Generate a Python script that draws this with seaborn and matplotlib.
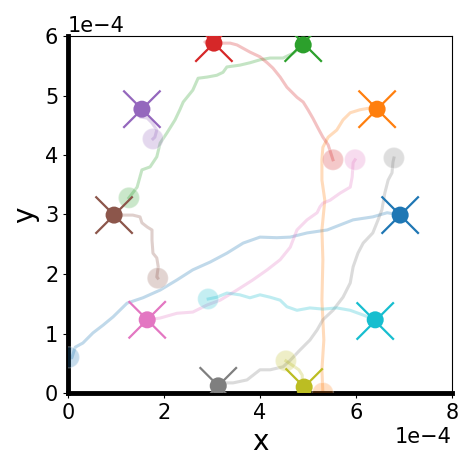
import numpy as np
import pandas as pd
import matplotlib
matplotlib.use("Agg")
import matplotlib.pyplot as plt
import seaborn as sns

SCALE = 1e-4  # values below are in units of 1e-4

agents = ["0", "1", "2", "3", "4", "5", "6", "7", "8", "9"]

# trajectories (x, y), in 1e-4 units
path0_x = [0.02, 0.08, 0.15, 0.31, 0.52, 0.73, 0.94, 1.23, 1.56, 1.92, 2.27, 2.60, 2.96, 3.31, 3.65, 4.00, 4.35, 4.63, 4.98, 5.40, 5.94, 6.35, 6.65, 6.92]
path0_y = [0.60, 0.59, 0.77, 0.84, 1.01, 1.14, 1.28, 1.51, 1.60, 1.73, 1.90, 2.07, 2.20, 2.35, 2.52, 2.62, 2.61, 2.62, 2.69, 2.74, 2.91, 2.96, 3.03, 2.99]

path1_x = [5.31, 5.29, 5.33, 5.29, 5.31, 5.29, 5.35, 5.29, 5.29, 5.31, 5.42, 5.60, 5.73, 5.88, 6.08, 6.29, 6.44]
path1_y = [0.00, 0.39, 0.89, 1.56, 2.24, 2.74, 3.24, 3.58, 3.92, 4.13, 4.30, 4.42, 4.59, 4.71, 4.76, 4.79, 4.77]

path2_x = [1.27, 1.44, 1.54, 1.71, 1.85, 1.92, 2.06, 2.23, 2.33, 2.40, 2.60, 2.71, 2.90, 3.10, 3.23, 3.31, 3.58, 3.79, 4.00, 4.21, 4.48, 4.69, 4.90]
path2_y = [3.28, 3.46, 3.75, 3.80, 3.97, 4.20, 4.37, 4.59, 4.76, 4.89, 5.09, 5.29, 5.31, 5.34, 5.39, 5.48, 5.51, 5.55, 5.60, 5.63, 5.63, 5.71, 5.85]

path3_x = [5.52, 5.42, 5.31, 5.21, 5.10, 5.00, 4.90, 4.77, 4.56, 4.42, 4.27, 4.15, 4.00, 3.79, 3.52, 3.38, 3.17, 2.85, 3.04]
path3_y = [3.92, 4.17, 4.30, 4.45, 4.62, 4.76, 4.89, 4.97, 5.14, 5.31, 5.46, 5.55, 5.65, 5.73, 5.85, 5.88, 5.88, 5.90, 5.88]

path4_x = [1.77, 1.81, 1.85, 1.75, 1.65, 1.50, 1.54]
path4_y = [4.27, 4.30, 4.42, 4.54, 4.62, 4.64, 4.77]

path5_x = [1.87, 1.85, 1.88, 1.85, 1.77, 1.75, 1.75, 1.65, 1.54, 1.50, 1.35, 1.19, 0.96]
path5_y = [1.93, 1.95, 2.12, 2.27, 2.35, 2.57, 2.74, 2.79, 2.86, 2.96, 2.99, 2.99, 2.99]

path6_x = [5.98, 5.94, 5.92, 5.88, 5.67, 5.46, 5.31, 5.25, 5.19, 4.98, 4.77, 4.63, 4.42, 4.15, 3.85, 3.52, 3.17, 2.90, 2.60, 2.27, 1.92, 1.65]
path6_y = [3.92, 3.87, 3.63, 3.46, 3.36, 3.24, 3.19, 3.13, 3.03, 2.91, 2.74, 2.45, 2.24, 2.07, 1.90, 1.73, 1.56, 1.48, 1.36, 1.34, 1.26, 1.23]

path7_x = [6.79, 6.77, 6.75, 6.67, 6.60, 6.54, 6.46, 6.35, 6.15, 6.04, 5.94, 5.88, 5.73, 5.52, 5.31, 5.19, 5.04, 4.83, 4.63, 4.48, 4.21, 4.00, 3.73, 3.44, 3.23, 3.13]
path7_y = [3.95, 3.88, 3.70, 3.58, 3.36, 3.08, 2.91, 2.69, 2.52, 2.35, 2.12, 1.85, 1.61, 1.39, 1.23, 1.06, 0.89, 0.72, 0.55, 0.44, 0.39, 0.39, 0.22, 0.17, 0.17, 0.12]

path8_x = [4.54, 4.81, 4.88, 4.88, 4.92]
path8_y = [0.54, 0.39, 0.30, 0.17, 0.10]

path9_x = [2.92, 3.10, 3.31, 3.58, 3.79, 4.00, 4.21, 4.42, 4.56, 4.77, 5.04, 5.31, 5.60, 5.88, 6.15, 6.40]
path9_y = [1.58, 1.61, 1.68, 1.65, 1.60, 1.65, 1.61, 1.56, 1.45, 1.39, 1.43, 1.41, 1.43, 1.39, 1.31, 1.23]

# goals (x markers), in 1e-4 units
goal_x = [6.92, 6.44, 4.90, 3.04, 1.54, 0.96, 1.65, 3.13, 4.92, 6.40]
goal_y = [2.99, 4.77, 5.88, 5.88, 4.77, 2.99, 1.23, 0.12, 0.10, 1.21]

xticks = [0, 2, 4, 6, 8]
yticks = [0, 1, 2, 3, 4, 5, 6]

paths_x = [path0_x, path1_x, path2_x, path3_x, path4_x, path5_x, path6_x, path7_x, path8_x, path9_x]
paths_y = [path0_y, path1_y, path2_y, path3_y, path4_y, path5_y, path6_y, path7_y, path8_y, path9_y]

rows = []
for a, px, py in zip(agents, paths_x, paths_y):
    for i, (xx, yy) in enumerate(zip(px, py)):
        rows.append({"agent": a, "step": i, "x": xx * SCALE, "y": yy * SCALE})
df = pd.DataFrame(rows)
start = df[df["step"] == 0]
end = df.groupby("agent", sort=False).tail(1)
goals = pd.DataFrame({"agent": agents,
                      "x": np.array(goal_x) * SCALE,
                      "y": np.array(goal_y) * SCALE})

palette = dict(zip(agents, sns.color_palette("tab10", 10)))

fig = plt.figure(figsize=(4.69, 4.68), dpi=100)
ax = fig.add_axes([68 / 469, 75 / 468, 384 / 469, 357 / 468])

sns.lineplot(data=df, x="x", y="y", hue="agent", units="agent", estimator=None,
             sort=False, palette=palette, alpha=0.28, linewidth=2.2,
             legend=False, ax=ax)
sns.scatterplot(data=start, x="x", y="y", hue="agent", palette=palette,
                s=230, alpha=0.25, linewidth=1.0, legend=False, ax=ax, zorder=3)
sns.scatterplot(data=goals, x="x", y="y", hue="agent", palette=palette,
                marker="x", s=720, linewidth=1.6, legend=False, ax=ax, zorder=4)
sns.scatterplot(data=end, x="x", y="y", hue="agent", palette=palette,
                s=150, linewidth=0, legend=False, ax=ax, zorder=5)

ax.set_xlim(0, 8 * SCALE)
ax.set_ylim(0, 6 * SCALE)
ax.set_xticks(np.array(xticks) * SCALE)
ax.set_yticks(np.array(yticks) * SCALE)
ax.ticklabel_format(style="sci", axis="both", scilimits=(0, 0))
ax.tick_params(labelsize=15)
ax.xaxis.get_offset_text().set_fontsize(15)
ax.yaxis.get_offset_text().set_fontsize(15)
ax.set_xlabel("x", fontsize=20)
ax.set_ylabel("y", fontsize=20)
ax.spines["left"].set_linewidth(3.5)
ax.spines["bottom"].set_linewidth(3.5)

fig.savefig("out.png", dpi=100)
